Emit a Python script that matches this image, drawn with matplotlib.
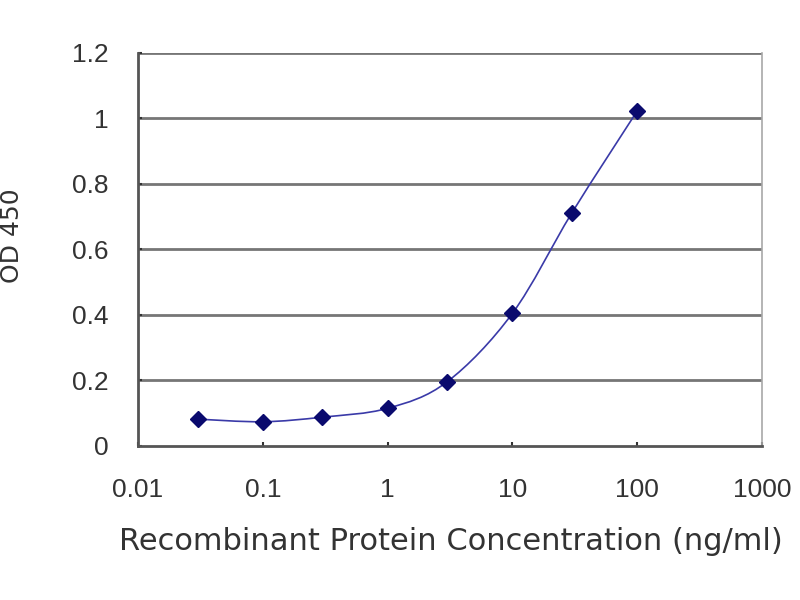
import numpy as np
import matplotlib
matplotlib.use("Agg")
import matplotlib.pyplot as plt
from matplotlib.path import Path
from matplotlib.patches import PathPatch

conc = [0.03, 0.1, 0.3, 1, 3, 10, 30, 100]
od = [0.082, 0.074, 0.088, 0.115, 0.196, 0.405, 0.712, 1.023]
xticks = [0.01, 0.1, 1, 10, 100, 1000]
xticklabels = ["0.01", "0.1", "1", "10", "100", "1000"]
yticks = [0, 0.2, 0.4, 0.6, 0.8, 1, 1.2]
yticklabels = ["0", "0.2", "0.4", "0.6", "0.8", "1", "1.2"]

plt.rcParams['font.family'] = ['Liberation Sans', 'DejaVu Sans']
text_col = '#333333'

fig = plt.figure(figsize=(8, 6), dpi=100)
ax = fig.add_axes([0.1725, 0.2567, 0.78, 0.655])
ax.set_xscale('log')
ax.set_xlim(0.01, 1000)
ax.set_ylim(0, 1.2)

# smoothed line like the spreadsheet "smooth line" option, built in log-x space
lx = np.log10(conc)
py = np.array(od)
pts = np.column_stack([lx, py])
ext = np.vstack([pts[0], pts, pts[-1]])
verts = [pts[0]]
codes = [Path.MOVETO]
for i in range(len(pts) - 1):
    p0, p1, p2, p3 = ext[i], ext[i + 1], ext[i + 2], ext[i + 3]
    c1 = p1 + (p2 - p0) / 6
    c2 = p2 - (p3 - p1) / 6
    verts += [c1, c2, p2]
    codes += [Path.CURVE4] * 3
verts = np.array(verts)
verts[:, 0] = 10 ** verts[:, 0]
ax.add_patch(PathPatch(Path(verts, codes), facecolor='none',
                       edgecolor='#3a3aa8', lw=1.2, zorder=3))
ax.plot(conc, od, linestyle='none', marker='D', markersize=8.5,
        color='#0a0a6e', zorder=4)

for y in yticks[1:]:
    ax.axhline(y, color='#767676', lw=2.0, zorder=1)

ax.set_xticks(xticks)
ax.set_xticklabels(xticklabels)
ax.xaxis.set_minor_locator(matplotlib.ticker.NullLocator())
ax.set_yticks(yticks)
ax.set_yticklabels(yticklabels)
ax.tick_params(axis='both', labelsize=19, colors=text_col, length=3,
               width=1.5, direction='in')
ax.tick_params(axis='x', pad=23)
ax.tick_params(axis='y', pad=21)

for s in ['left', 'bottom']:
    ax.spines[s].set_color('#555555')
    ax.spines[s].set_linewidth(2)
ax.spines['right'].set_color('#a8a8a8')
ax.spines['right'].set_linewidth(1.2)
ax.spines['top'].set_visible(False)

fig.text(451 / 800, 1 - 542 / 600, 'Recombinant Protein Concentration (ng/ml)',
         fontsize=22, family='DejaVu Sans', color=text_col,
         ha='center', va='center')
fig.text(12 / 800, 1 - 236 / 600, 'OD 450', fontsize=18,
         family='DejaVu Sans', color=text_col, rotation=90,
         ha='center', va='center')

fig.savefig('out.png', dpi=100)
